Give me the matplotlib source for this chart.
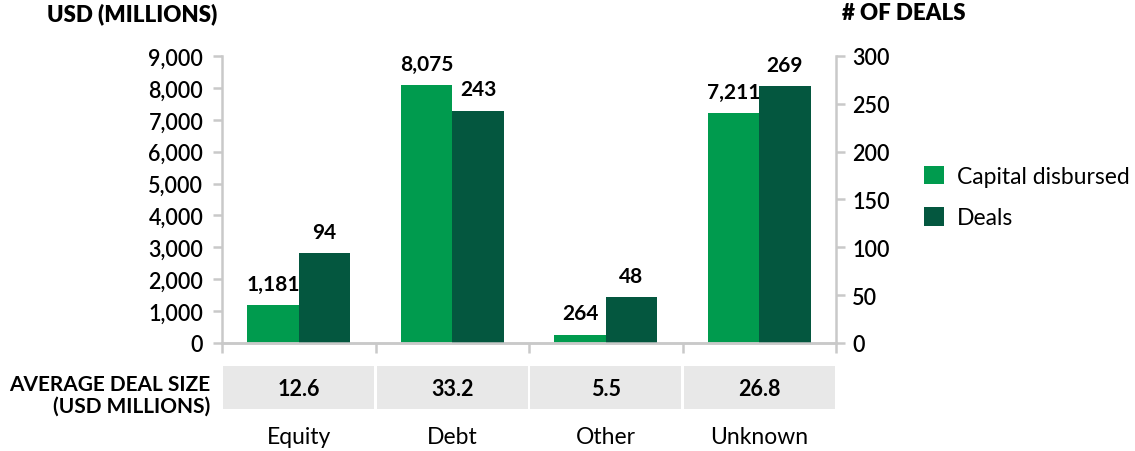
import matplotlib.pyplot as plt
import matplotlib.patches as mpatches
import numpy as np

plt.rcParams['font.family'] = ['Lato', 'DejaVu Sans']

categories = ["Equity", "Debt", "Other", "Unknown"]
capital = [1181, 8075, 264, 7211]
deals = [94, 243, 48, 269]
avg_size = ["12.6", "33.2", "5.5", "26.8"]

light = '#009B4E'
dark = '#04573F'
gray = '#c9c9c9'

W, H = 1135, 452
fig = plt.figure(figsize=(W / 100, H / 100), dpi=100)
x0, x1, y0, y1 = 222, 836, 344, 57
ax = fig.add_axes([x0 / W, 1 - y0 / H, (x1 - x0) / W, (y0 - y1) / H])
ax2 = ax.twinx()

x = np.arange(len(categories))
w = 0.335
b1 = ax.bar(x - w / 2, capital, w, color=light, label='Capital disbursed')
b2 = ax2.bar(x + w / 2, deals, w, color=dark, label='Deals')
ax.bar_label(b1, labels=[f"{v:,}" for v in capital], padding=8,
             fontsize=15, fontweight='bold')
ax2.bar_label(b2, labels=[str(v) for v in deals], padding=8,
              fontsize=15, fontweight='bold')

ax.set_xlim(-0.5, 3.5)
ax.set_ylim(0, 9000)
ax2.set_ylim(0, 300)
ax.set_yticks(range(0, 9001, 1000))
ax.set_yticklabels([f"{v:,}" for v in range(0, 9001, 1000)])
ax2.set_yticks(range(0, 301, 50))

for a in (ax, ax2):
    for s in a.spines.values():
        s.set_color(gray)
        s.set_linewidth(1.8)
    a.spines['top'].set_visible(False)
    a.tick_params(colors=gray, width=1.8, length=6.5, labelsize=15.5,
                  labelcolor='black')
ax.spines['right'].set_visible(False)
ax2.spines['left'].set_visible(False)
for lab in ax.get_yticklabels() + ax2.get_yticklabels():
    lab.set_fontweight('semibold')
ax.tick_params(axis='y', pad=7)
ax2.tick_params(axis='y', pad=5)

ax.set_xticks([-0.5, 0.5, 1.5, 2.5, 3.5])
ax.set_xticklabels([])
ax.tick_params(axis='x', length=7)

# average deal size table
for i, v in enumerate(avg_size):
    ax.add_patch(mpatches.Rectangle((i - 0.5 + 0.007, -0.230), 0.986, 0.150,
                                    transform=ax.get_xaxis_transform(),
                                    color='#e8e8e8', clip_on=False, lw=0))
    ax.text(i, -0.158, v, transform=ax.get_xaxis_transform(), ha='center',
            va='center', fontsize=15.5, fontweight='bold')
    ax.text(i, -0.327, categories[i], transform=ax.get_xaxis_transform(),
            ha='center', va='center', fontsize=16.5)

fig.text(210 / W, 1 - 396 / H, "AVERAGE DEAL SIZE\n(USD MILLIONS)",
         ha='right', va='center', ma='right', fontsize=15, fontweight='bold',
         linespacing=1.1)
fig.text(47 / W, 1 - 14 / H, "USD (MILLIONS)", ha='left', va='center',
         fontsize=16, fontweight='heavy')
fig.text(842 / W, 1 - 14 / H, "# OF DEALS", ha='left', va='center',
         fontsize=16, fontweight='heavy')

fig.legend(handles=[b1, b2], loc='center left',
           bbox_to_anchor=(924 / W, 1 - 198 / H), frameon=False,
           fontsize=16.5, handlelength=0.87, handleheight=0.87,
           handletextpad=0.55, labelspacing=0.88, borderaxespad=0,
           borderpad=0)

fig.savefig('out.png', dpi=100)
